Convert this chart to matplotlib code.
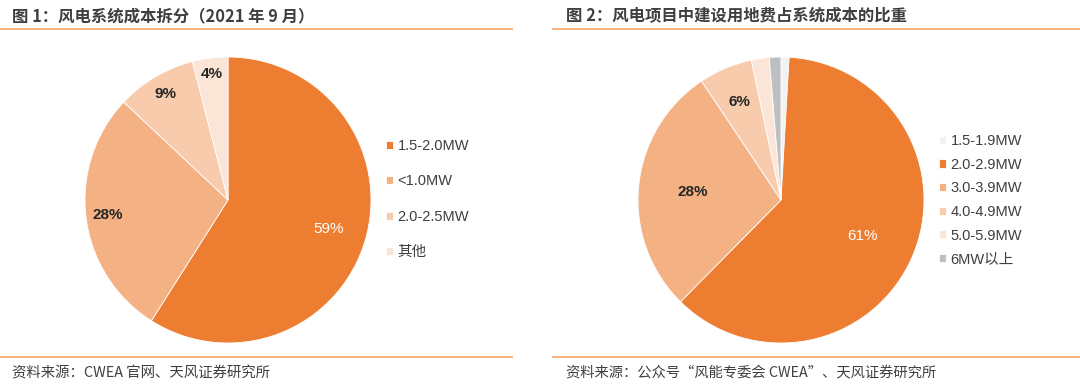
import matplotlib
matplotlib.use("Agg")
import matplotlib.pyplot as plt
from matplotlib.lines import Line2D
import numpy as np

plt.rcParams['font.family'] = ['Noto Sans CJK SC', 'DejaVu Sans']
LAT = ['Liberation Sans', 'Noto Sans CJK SC', 'DejaVu Sans']

W, H = 1080, 387

# ---- data ----
left_labels = ['1.5-2.0MW', '<1.0MW', '2.0-2.5MW', '其他']
left_values = [59, 28, 9, 4]
left_colors = ['#ED7D31', '#F4B183', '#F8CBAD', '#FBE5D6']

right_labels = ['1.5-1.9MW', '2.0-2.9MW', '3.0-3.9MW', '4.0-4.9MW', '5.0-5.9MW', '6MW以上']
right_values = [0.9, 61, 28, 6, 2, 1.3]
right_shown = ['', '61%', '28%', '6%', '', '']
right_colors = ['#F2F2F2', '#ED7D31', '#F4B183', '#F8CBAD', '#FBE5D6', '#BDBFC0']

title_left = '图 1：风电系统成本拆分（2021 年 9 月）'
title_right = '图 2：风电项目中建设用地费占系统成本的比重'
source_left = '资料来源：CWEA 官网、天风证券研究所'
source_right = '资料来源：公众号“风能专委会 CWEA”、天风证券研究所'

fig = plt.figure(figsize=(W / 100, H / 100), dpi=100)
fig.patch.set_facecolor('white')


def px_axes(x0, y0, w, h):
    return fig.add_axes([x0 / W, 1 - (y0 + h) / H, w / W, h / H])


def fx(x):
    return x / W


def fy(y):
    return 1 - y / H


LINE_C = '#F7B27E'
TXT_C = '#3F3F3F'

# titles and rules
fig.text(fx(12), fy(16), title_left, fontsize=11.8, fontweight='bold', color=TXT_C, va='center', ha='left')
fig.text(fx(566), fy(16), title_right, fontsize=11.8, fontweight='bold', color=TXT_C, va='center', ha='left')
for (a, b) in [(0, 512), (553, 1080)]:
    fig.add_artist(Line2D([fx(a), fx(b)], [fy(29), fy(29)], color=LINE_C, lw=1.4))
    fig.add_artist(Line2D([fx(a), fx(b)], [fy(356.5), fy(356.5)], color=LINE_C, lw=1.4))
fig.text(fx(12), fy(373), source_left, fontsize=10.4, color=TXT_C, va='center', ha='left')
fig.text(fx(566), fy(373), source_right, fontsize=10.3, color=TXT_C, va='center', ha='left')

# left pie
R = 143
axl = px_axes(228 - R, 200 - R, 2 * R, 2 * R)
wl, tl = axl.pie(left_values, colors=left_colors, startangle=90, counterclock=False,
                 labels=None, wedgeprops=dict(edgecolor='white', linewidth=0.6))
axl.set_xlim(-1, 1)
axl.set_ylim(-1, 1)
axl.set_aspect('equal')
lab_r = [0.73, 0.85, 0.86, 0.89]
for w, v, r in zip(wl, left_values, lab_r):
    ang = np.deg2rad((w.theta1 + w.theta2) / 2)
    first = (v == max(left_values))
    axl.text(r * np.cos(ang), r * np.sin(ang), f'{v}%', ha='center', va='center',
             fontsize=11, family=LAT, color='white' if first else '#262626',
             fontweight='normal' if first else 'bold')

legl = fig.legend(handles=wl, labels=left_labels, loc='upper left',
                  bbox_to_anchor=(fx(386), fy(139)), frameon=False, borderpad=0,
                  borderaxespad=0, handlelength=0.5, handleheight=0.5,
                  handletextpad=0.3, labelspacing=1.47,
                  prop={'family': LAT, 'size': 10.5})
for t in legl.get_texts():
    t.set_color(TXT_C)

# right pie
axr = px_axes(781 - R, 200 - R, 2 * R, 2 * R)
wr, tr = axr.pie(right_values, colors=right_colors, startangle=90, counterclock=False,
                 labels=None, wedgeprops=dict(edgecolor='white', linewidth=0.6))
axr.set_xlim(-1, 1)
axr.set_ylim(-1, 1)
axr.set_aspect('equal')
rlab_r = {'61%': 0.62, '28%': 0.62, '6%': 0.74}
for w, s in zip(wr, right_shown):
    if not s:
        continue
    ang = np.deg2rad((w.theta1 + w.theta2) / 2)
    r = rlab_r[s]
    first = s == '61%'
    axr.text(r * np.cos(ang), r * np.sin(ang), s, ha='center', va='center',
             fontsize=11, family=LAT, color='white' if first else '#262626',
             fontweight='normal' if first else 'bold')

legr = fig.legend(handles=wr, labels=right_labels, loc='upper left',
                  bbox_to_anchor=(fx(939), fy(134)), frameon=False, borderpad=0,
                  borderaxespad=0, handlelength=0.5, handleheight=0.5,
                  handletextpad=0.3, labelspacing=0.66,
                  prop={'family': LAT, 'size': 10.5})
for t in legr.get_texts():
    t.set_color(TXT_C)

fig.savefig('out.png', dpi=100, facecolor='white')
